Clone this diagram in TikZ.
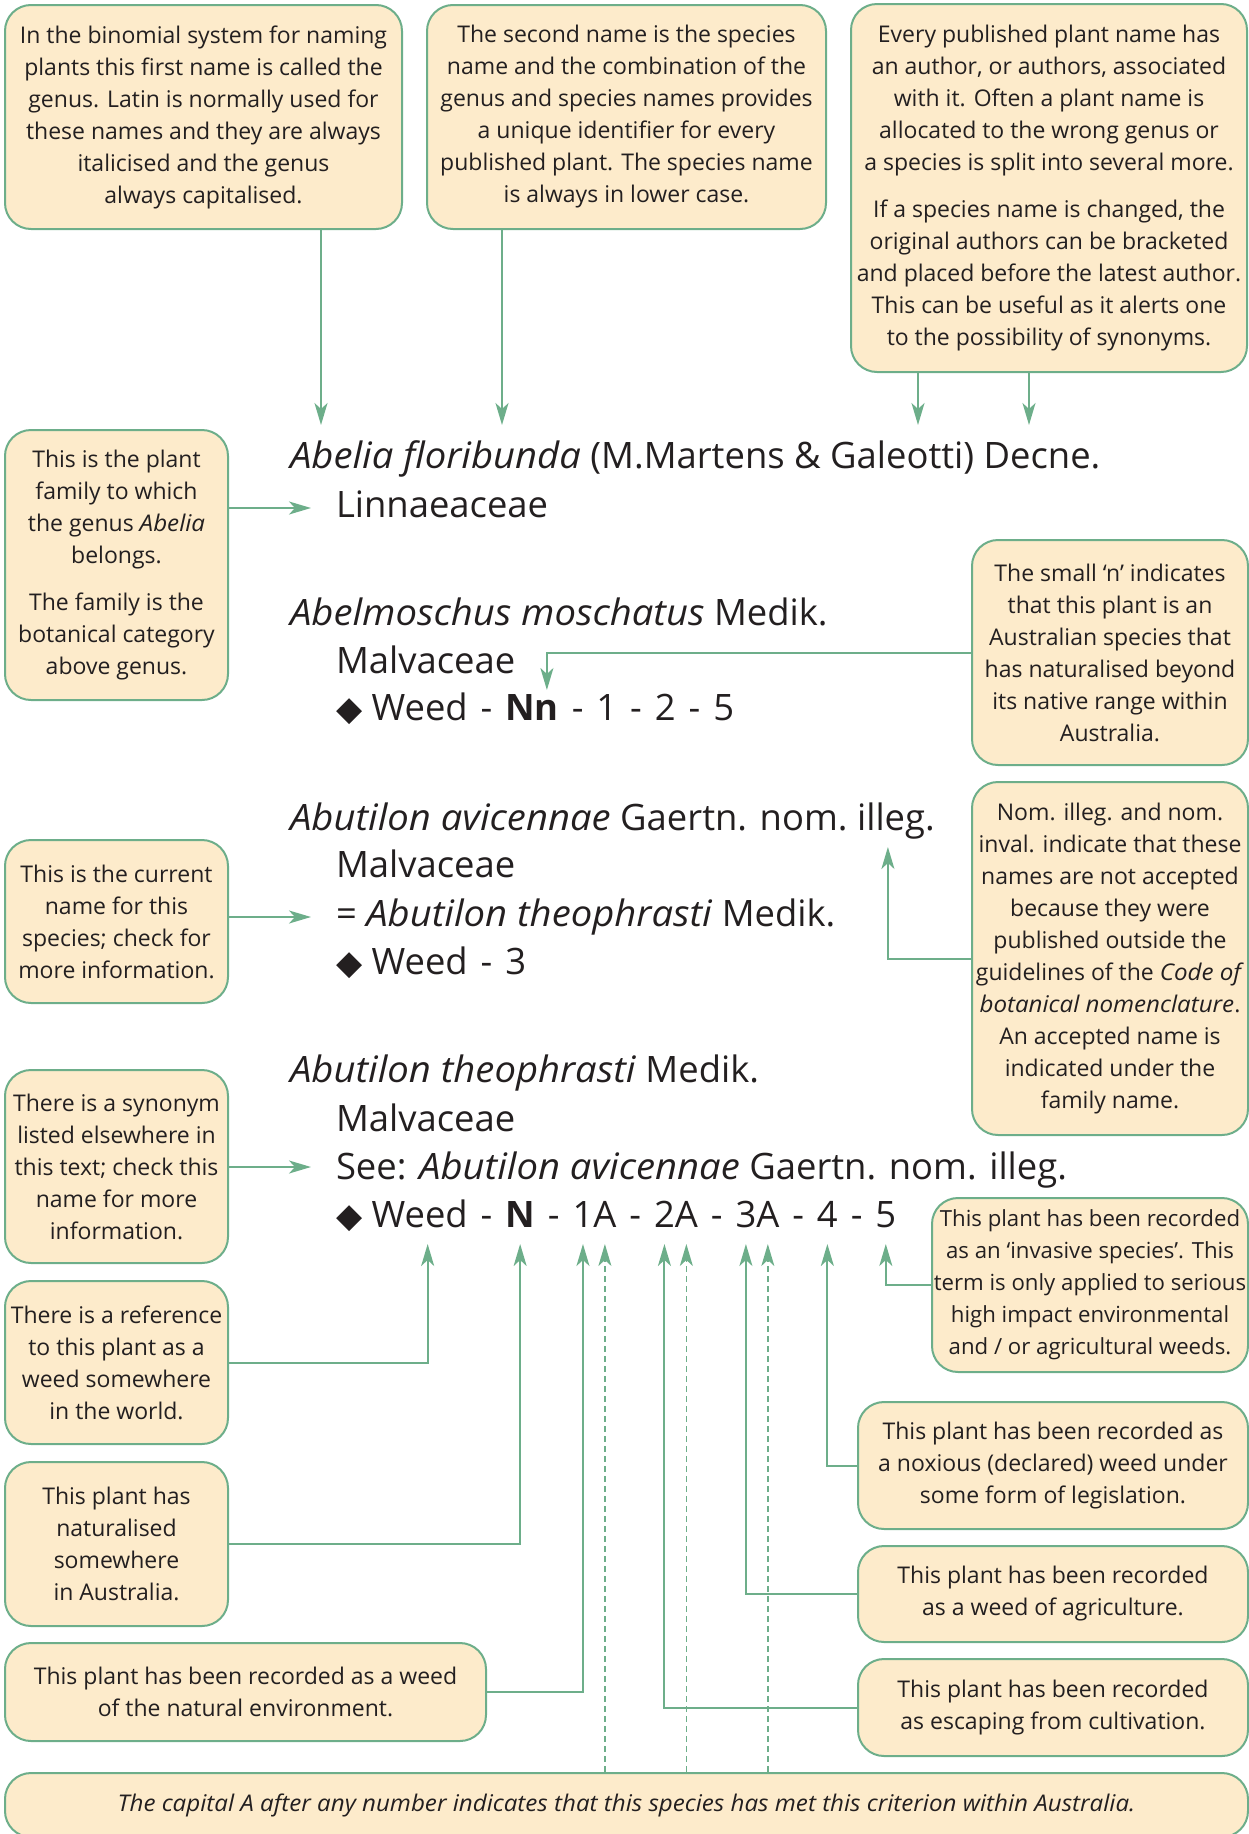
\documentclass[tikz,border=0pt]{standalone}
\usepackage{fontspec}
\setmainfont{Open Sans}[ItalicFeatures={FakeStretch=1.05}]
\newfontfamily\dejavu{DejaVu Sans}
\usepackage{tikz}
\usetikzlibrary{positioning, arrows.meta}
\definecolor{peach}{HTML}{FDEBCB}
\definecolor{sage}{HTML}{6DAE8A}
\definecolor{ink}{HTML}{231F20}
\newcommand{\notefont}{\fontsize{23}{32}\selectfont}
\newcommand{\entryfont}{\fontsize{36.4}{48}\selectfont}
\newcommand{\diam}{{\dejavu\fontsize{34}{34}\selectfont ◆}}
\newcommand{\dsep}{\kern3.5pt\ -\ \kern3.5pt}
\tikzset{
  note/.style={draw=sage, line width=2pt, rounded corners=26pt, fill=peach, align=center, font=\notefont, text=ink, inner sep=0pt},
  entry/.style={inner sep=0pt, outer sep=0pt, anchor=base west, font=\entryfont, text=ink, text height=26pt, text depth=0pt},
  link/.style={-{Stealth[length=22pt, width=13pt, inset=6pt]}, line width=2pt, draw=sage},
  hint/.style={link, line width=1.5pt, dash pattern=on 6pt off 4pt},
}

\begin{document}
\begin{tikzpicture}[x=1pt, y=-1pt]
  \useasboundingbox (0,0) rectangle (1249,1834);

  % notes along the top
  \node[note, minimum width=397pt, minimum height=224pt] (noteGenus) at (203.5,117) {In the binomial system for naming\\plants this first name is called the\\genus. Latin is normally used for\\these names and they are always\\italicised and the genus\\always capitalised.};
  \node[note, minimum width=399pt, minimum height=224pt] (noteSpecies) at (626.5,117) {The second name is the species\\name and the combination of the\\genus and species names provides\\a unique identifier for every\\published plant. The species name\\is always in lower case.};
  \node[note, minimum width=396pt, minimum height=368pt] (noteAuthor) at (1049,188) {Every published plant name has\\an author, or authors, associated\\with it. Often a plant name is\\allocated to the wrong genus or\\a species is split into several more.\\[15pt]If a species name is changed, the\\original authors can be bracketed\\and placed before the latest author.\\This can be useful as it alerts one\\to the possibility of synonyms.};

  % notes on the left
  \node[note, minimum width=223pt, minimum height=270pt] (noteFamily) at (116.5,565) {This is the plant\\family to which\\the genus \textit{Abelia}\\belongs.\\[15pt]The family is the\\botanical category\\above genus.};
  \node[note, minimum width=223pt, minimum height=163pt] (noteCurrent) at (116.5,921.5) {This is the current\\name for this\\species; check for\\more information.};
  \node[note, minimum width=223pt, minimum height=193pt] (noteSynonym) at (116.5,1166.5) {There is a synonym\\listed elsewhere in\\this text; check this\\name for more\\information.};
  \node[note, minimum width=223pt, minimum height=163pt] (noteWorld) at (116.5,1362.5) {There is a reference\\to this plant as a\\weed somewhere\\in the world.};
  \node[note, minimum width=223pt, minimum height=164pt] (noteAus) at (116.5,1544) {This plant has\\naturalised\\somewhere\\in Australia.};
  \node[note, minimum width=481pt, minimum height=98pt] (noteNatural) at (245.5,1692) {This plant has been recorded as a weed\\of the natural environment.};

  % notes on the right
  \node[note, minimum width=276pt, minimum height=225pt] (noteSmallN) at (1110,652.5) {The small ‘n’ indicates\\that this plant is an\\Australian species that\\has naturalised beyond\\its native range within\\Australia.};
  \node[note, minimum width=276pt, minimum height=353pt] (noteNom) at (1110,958.5) {Nom. illeg. and nom.\\inval. indicate that these\\names are not accepted\\because they were\\published outside the\\guidelines of the \textit{Code of}\\\textit{botanical nomenclature}.\\An accepted name is\\indicated under the\\family name.};
  \node[note, minimum width=316pt, minimum height=174pt, font=\fontsize{22.2}{32}\selectfont] (noteInvasive) at (1090,1285) {This plant has been recorded\\as an ‘invasive species’. This\\term is only applied to serious\\high impact environmental\\and / or agricultural weeds.};
  \node[note, minimum width=390pt, minimum height=127pt] (noteNoxious) at (1053,1465.5) {This plant has been recorded as\\a noxious (declared) weed under\\some form of legislation.};
  \node[note, minimum width=390pt, minimum height=96pt] (noteAgri) at (1053,1594) {This plant has been recorded\\as a weed of agriculture.};
  \node[note, minimum width=390pt, minimum height=97pt] (noteCultiv) at (1053,1707.5) {This plant has been recorded\\as escaping from cultivation.};
  \node[note, minimum width=1243pt, minimum height=64pt] (noteCapitalA) at (626.5,1805) {\textit{The capital A after any number indicates that this species has met this criterion within Australia.}};

  % the four entries
  \node[entry] (abelia) at (290,468) {\textit{Abelia floribunda} (M.Martens \& Galeotti) Decne.};
  \node[entry] (linn) at (336,517) {Linnaeaceae};

  \node[entry] (abelmo) at (290,625) {\textit{Abelmoschus moschatus} Medik.};
  \node[entry] (malv2) at (336,673) {Malvaceae};
  \node[entry] (dia2) at (336,720) {\diam\ \null};
  \node[entry] (weed2) at (dia2.base east) {Weed\dsep\textbf{N}};
  \node[entry] (n2) at (weed2.base east) {\textbf{n}};
  \node[entry] (rest2) at (n2.base east) {\dsep1\dsep2\dsep5};

  \node[entry] (avic) at (290,830) {\textit{Abutilon avicennae} Gaertn. nom.\ \null};
  \node[entry] (illeg) at (avic.base east) {illeg.};
  \node[entry] (malv3) at (336,877) {Malvaceae};
  \node[entry] (theo3) at (336,926) {= \textit{Abutilon theophrasti} Medik.};
  \node[entry] (weed3) at (336,974) {\diam\ Weed\dsep3};

  \node[entry] (theo4) at (290,1082) {\textit{Abutilon theophrasti} Medik.};
  \node[entry] (malv4) at (336,1131) {Malvaceae};
  \node[entry] (see4) at (336,1179) {See: \textit{Abutilon avicennae} Gaertn. nom. illeg.};
  \node[entry] (dia4) at (336,1227) {\diam\ \null};
  \node[entry] (weed4) at (dia4.base east) {Weed};
  \node[entry] (dash41) at (weed4.base east) {\dsep};
  \node[entry] (wN) at (dash41.base east) {\textbf{N}};
  \node[entry] (dash42) at (wN.base east) {\dsep};
  \node[entry] (w1) at (dash42.base east) {1};
  \node[entry] (w1A) at (w1.base east) {A};
  \node[entry] (dash43) at (w1A.base east) {\dsep};
  \node[entry] (w2) at (dash43.base east) {2};
  \node[entry] (w2A) at (w2.base east) {A};
  \node[entry] (dash44) at (w2A.base east) {\dsep};
  \node[entry] (w3) at (dash44.base east) {3};
  \node[entry] (w3A) at (w3.base east) {A};
  \node[entry] (dash45) at (w3A.base east) {\dsep};
  \node[entry] (w4) at (dash45.base east) {4};
  \node[entry] (dash46) at (w4.base east) {\dsep};
  \node[entry] (w5) at (dash46.base east) {5};

  % arrow ends
  \coordinate (tipGenus) at (321,425);
  \coordinate (tipSpecies) at (502,425);
  \coordinate (tipOrig) at (918,425);
  \coordinate (tipLatest) at (1029,425);
  \coordinate (tipFamily) at ([xshift=-25pt, yshift=9pt]linn.base west);
  \coordinate (tipCurrent) at ([xshift=-25pt, yshift=9pt]theo3.base west);
  \coordinate (tipSynonym) at ([xshift=-25pt, yshift=12pt]see4.base west);

  \draw[link] (noteGenus.south -| tipGenus) -- (tipGenus);
  \draw[link] (noteSpecies.south -| tipSpecies) -- (tipSpecies);
  \draw[link] (noteAuthor.south -| tipOrig) -- (tipOrig);
  \draw[link] (noteAuthor.south -| tipLatest) -- (tipLatest);

  \draw[link] (noteFamily.east |- tipFamily) -- (tipFamily);
  \draw[link] (noteSmallN.west) -| ([yshift=4pt]n2.north);
  \draw[link] (noteCurrent.east |- tipCurrent) -- (tipCurrent);
  \draw[link] (noteNom.west) -| ([xshift=-8pt, yshift=-17pt]illeg.south);
  \draw[link] (noteSynonym.east |- tipSynonym) -- (tipSynonym);

  % weed codes
  \draw[link] (noteWorld.east) -| ([xshift=8pt, yshift=-17pt]weed4.south);
  \draw[link] (noteAus.east) -| ([yshift=-17pt]wN.south);
  \draw[link] (noteNatural.east) -| ([yshift=-17pt]w1.south);
  \draw[link] (noteCultiv.west) -| ([yshift=-17pt]w2.south);
  \draw[link] (noteAgri.west) -| ([yshift=-17pt]w3.south);
  \draw[link] (noteNoxious.west) -| ([yshift=-17pt]w4.south);
  \draw[link] (noteInvasive.west) -| ([yshift=-17pt]w5.south);
  \draw[hint] (noteCapitalA.north -| w1A) -- ([yshift=-17pt]w1A.south);
  \draw[hint] (noteCapitalA.north -| w2A) -- ([yshift=-17pt]w2A.south);
  \draw[hint] (noteCapitalA.north -| w3A) -- ([yshift=-17pt]w3A.south);
\end{tikzpicture}
\end{document}
